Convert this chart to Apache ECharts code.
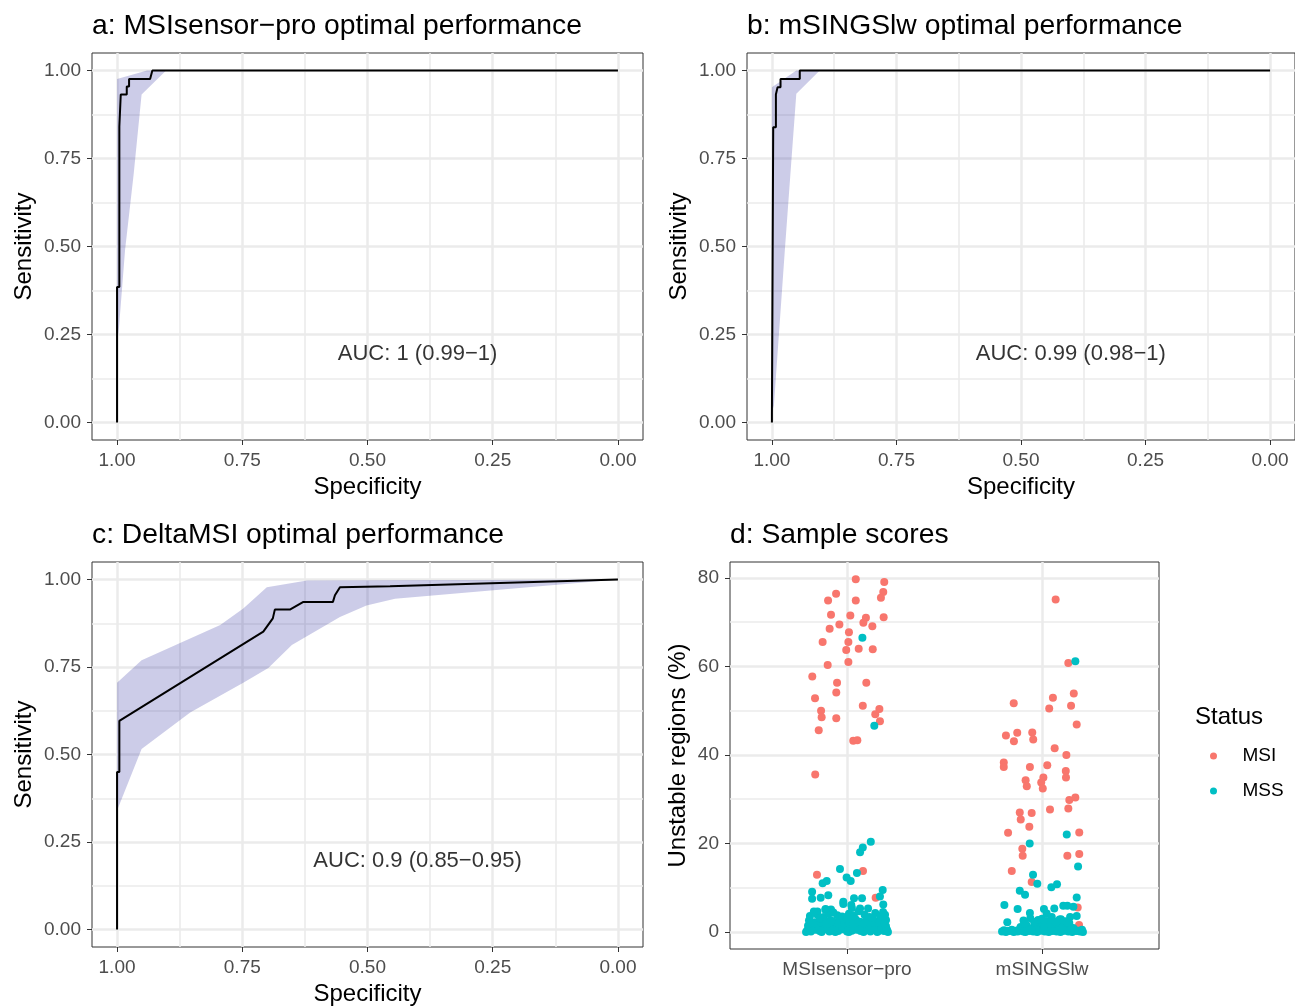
<!DOCTYPE html>
<html>
<head>
<meta charset="utf-8">
<script src="https://cdn.jsdelivr.net/npm/echarts@6.0.0/dist/echarts.min.js"></script>
<style>
html, body { margin: 0; padding: 0; background: #fff; }
#chart { width: 1295px; height: 1007px; }
</style>
</head>
<body>
<div id="chart"></div>
<script>
// panel titles
const panelTitles = [
  'a: MSIsensor\u2212pro optimal performance',
  'b: mSINGSlw optimal performance',
  'c: DeltaMSI optimal performance',
  'd: Sample scores'
];
const aucLabels = ['AUC: 1 (0.99\u22121)', 'AUC: 0.99 (0.98\u22121)', 'AUC: 0.9 (0.85\u22120.95)'];

// ROC tick values
const rocTicks = [0, 0.25, 0.5, 0.75, 1];
const rocMinor = [0.125, 0.375, 0.625, 0.875];

// a: MSIsensor-pro ROC curve
const rocASpec = [1, 1, 0.9954, 0.9954, 0.9926, 0.9926, 0.9806, 0.9806, 0.976, 0.976, 0.934, 0.9295, 0];
const rocASens = [0, 0.385, 0.385, 0.841, 0.841, 0.932, 0.932, 0.955, 0.955, 0.976, 0.976, 1, 1];
const bandAUpper = [[1, 0.976], [0.94, 1], [0, 1]];
const bandALower = [[1, 0.22], [0.996, 0.272], [0.984, 0.49], [0.967, 0.703], [0.951, 0.932], [0.902, 1], [0, 1]];

// b: mSINGSlw ROC curve
const rocBSpec = [1, 1, 0.9974, 0.9974, 0.992, 0.992, 0.9886, 0.9886, 0.9827, 0.9827, 0.9441, 0.9441, 0];
const rocBSens = [0, 0.028, 0.028, 0.839, 0.839, 0.932, 0.932, 0.953, 0.953, 0.976, 0.976, 1, 1];
const bandBUpper = [[1, 0.953], [0.951, 1], [0, 1]];
const bandBLower = [[1, 0.03], [0.996, 0.048], [0.974, 0.49], [0.963, 0.703], [0.951, 0.934], [0.904, 1], [0, 1]];

// c: DeltaMSI ROC curve
const rocCSpec = [1, 1, 0.9954, 0.9954, 0.708, 0.689, 0.685, 0.655, 0.628, 0.569, 0.565, 0.555, 0.455, 0];
const rocCSens = [0, 0.45, 0.45, 0.596, 0.851, 0.889, 0.914, 0.914, 0.936, 0.936, 0.955, 0.978, 0.981, 1];
const bandCUpper = [[1, 0.705], [0.951, 0.769], [0.794, 0.87], [0.748, 0.917], [0.701, 0.978], [0.621, 0.997], [0, 1]];
const bandCLower = [[1, 0.34], [0.951, 0.516], [0.854, 0.62], [0.748, 0.705], [0.698, 0.747], [0.651, 0.813],
  [0.555, 0.893], [0.502, 0.926], [0.445, 0.945], [0, 1]];

// d: sample scores (jitter offset from category, unstable %)
const groups = ['MSIsensor\u2212pro', 'mSINGSlw'];
const scoreTicks = [0, 20, 40, 60, 80];
const scoreMinor = [10, 30, 50, 70];

const proMsiJit = [0.045, 0.191, 0.186, 0.174, -0.056, -0.097, 0.045, -0.082, 0.017, 0.097, 0.084, 0.188, -0.039,
  -0.089, 0.130, 0.010, -0.125, 0.007, -0.004, 0.060, 0.132, -0.099, 0.007, -0.178, -0.051, 0.099, -0.055, -0.164,
  0.081, -0.133, 0.166, 0.145, -0.130, -0.055, 0.169, -0.145, 0.032, 0.053, -0.163, -0.154, 0.082, 0.147];
const proMsiVal = [79.7, 79.1, 76.8, 75.5, 76.4, 74.9, 74.9, 71.7, 71.5, 71.0, 69.9, 71.1, 69.5,
  68.5, 69.1, 67.7, 65.5, 65.5, 63.7, 64.0, 63.9, 60.3, 61.0, 57.7, 56.3, 56.3, 54.1, 52.8,
  51.1, 50.0, 50.4, 49.2, 48.5, 48.3, 47.6, 45.6, 43.2, 43.3, 35.6, 12.9, 13.8, 7.75];

const proMssJit = [0.079, 0.140, 0.122, 0.081, 0.067, -0.036, 0.051, -0.002, 0.019, -0.104, -0.125, -0.179, -0.179,
  -0.135, -0.096, 0.183, 0.169, 0.036, 0.077, -0.082, -0.019, -0.019, 0.022, 0.186, 0.067, 0.108, -0.111, -0.152,
  -0.205, -0.185, -0.16, -0.14, -0.115, -0.09, -0.07, -0.045, -0.02, 0.0, 0.025, 0.05, 0.07, 0.095, 0.12, 0.14, 0.165, 0.19, 0.205,
  -0.2, -0.175, -0.15, -0.125, -0.1, -0.08, -0.055, -0.03, -0.01, 0.015, 0.04, 0.06, 0.085, 0.11, 0.13, 0.155, 0.18, 0.2,
  -0.195, -0.165, -0.135, -0.11, -0.085, -0.06, -0.035, -0.005, 0.02, 0.045, 0.075, 0.1, 0.125, 0.15, 0.175, 0.2,
  -0.19, -0.155, -0.12, -0.095, -0.05, -0.025, 0.01, 0.035, 0.09, 0.115, 0.145, 0.17, 0.195,
  -0.21, -0.13, -0.06, 0.01, 0.085, 0.155, 0.21, -0.175, -0.035, 0.105, 0.18,
  -0.195, -0.17, -0.145, -0.12, -0.095, -0.075, -0.05, -0.025, 0.005, 0.03, 0.055, 0.08, 0.105, 0.125, 0.15, 0.175, 0.2,
  -0.185, -0.16, -0.13, -0.105, -0.075, -0.045, -0.015, 0.01, 0.035, 0.065, 0.09, 0.115, 0.14, 0.165, 0.19,
  -0.17, -0.14, -0.07, 0.0, 0.06, 0.13, 0.185, -0.11, 0.025];
const proMssVal = [66.5, 46.6, 20.4, 19.1, 18.0, 14.2, 13.3, 12.3, 11.5, 11.5, 11.0, 9.1, 7.5,
  7.75, 8.3, 9.5, 8.0, 7.6, 7.6, 5.1, 6.8, 6.3, 6.1, 6.2, 5.3, 5.3, 5.0, 4.6,
  0.3, 0.1, 0.5, 0.2, 0.6, 0.1, 0.4, 0.2, 0.7, 0.1, 0.3, 0.5, 0.2, 0.4, 0.1, 0.6, 0.3, 0.2, 0.5,
  1.4, 1.1, 1.7, 1.3, 1.0, 1.6, 1.2, 1.8, 1.1, 1.5, 1.3, 1.0, 1.7, 1.2, 1.5, 1.1, 1.6, 1.3,
  2.6, 2.2, 2.9, 2.4, 2.7, 2.1, 3.0, 2.5, 2.3, 2.8, 2.2, 2.6, 2.9, 2.4, 2.1, 2.7,
  3.6, 4.0, 3.4, 4.2, 3.8, 3.5, 4.1, 3.7, 3.9, 3.4, 4.3, 3.6, 3.9,
  0.0, 0.0, 0.0, 0.0, 0.0, 0.0, 0.0, 0.9, 0.8, 0.9, 0.9,
  0.8, 0.6, 1.0, 0.7, 0.9, 0.5, 1.0, 0.6, 0.9, 0.7, 1.0, 0.6, 0.8, 0.9, 0.7, 1.0, 0.8,
  2.0, 1.9, 2.2, 1.8, 2.4, 1.9, 2.1, 2.0, 1.8, 2.3, 1.9, 2.1, 2.0, 2.2, 1.9,
  4.6, 3.1, 4.4, 3.3, 4.7, 3.2, 4.5, 5.2, 5.4];

const singsMsiJit = [0.070, 0.135, -0.145, 0.056, 0.163, 0.037, 0.149, 0.178, -0.185, -0.127, -0.144, -0.050, -0.045,
  0.065, 0.125, -0.196, -0.196, -0.062, 0.027, 0.122, 0.123, -0.084, -0.078, 0.007, -0.004, 0.004, 0.140, 0.171,
  0.135, 0.041, -0.114, -0.053, -0.109, -0.065, -0.174, 0.191, -0.101, -0.099, 0.130, 0.191, -0.155, -0.053, 0.183, 0.190];
const singsMsiVal = [75.1, 60.8, 51.7, 52.9, 53.9, 50.5, 51.1, 46.9, 44.4, 45.0, 43.1, 45.1, 43.5,
  41.5, 40.0, 38.3, 37.3, 37.3, 37.7, 36.4, 34.9, 34.3, 32.9, 34.9, 33.8, 32.4, 29.8, 30.4,
  27.9, 27.7, 27.0, 26.9, 25.4, 23.8, 22.4, 22.5, 18.8, 17.2, 17.2, 17.6, 13.8, 11.3, 5.5, 1.6];

const singsMssJit = [0.171, 0.127, -0.063, 0.185, -0.046, -0.024, 0.048, 0.077, -0.114, -0.087, 0.178, -0.193,
  0.109, 0.130, 0.161, -0.125, 0.063, 0.010, -0.178, 0.144, 0.178, 0.097, -0.062, 0.024, -0.02,
  -0.205, -0.185, -0.165, -0.145, -0.125, -0.105, -0.085, -0.065, -0.045, -0.025, -0.005, 0.015, 0.035, 0.055,
  0.075, 0.095, 0.115, 0.135, 0.155, 0.175, 0.195, 0.21,
  -0.11, -0.08, -0.05, -0.02, 0.005, 0.03, 0.055, 0.08, 0.105, 0.13, 0.16,
  -0.095, -0.06, -0.03, 0.0, 0.025, 0.05, 0.09, 0.12,
  -0.195, -0.175, -0.155, -0.135, -0.115, -0.095, -0.075, -0.055, -0.035, -0.015, 0.005, 0.025, 0.045, 0.065,
  0.085, 0.105, 0.125, 0.145, 0.165, 0.185, 0.205,
  -0.09, -0.04, 0.01, 0.045, 0.07, 0.1, 0.14];
const singsMssVal = [61.2, 22.0, 20.0, 14.8, 12.9, 10.9, 10.1, 10.8, 9.3, 8.4, 7.8, 6.1,
  5.9, 5.9, 5.7, 5.2, 5.3, 5.2, 2.2, 3.4, 3.6, 2.9, 4.3, 4.2, 2.7,
  0.1, 0.0, 0.2, 0.0, 0.1, 0.3, 0.0, 0.2, 0.1, 0.0, 0.3, 0.1, 0.0, 0.2,
  0.1, 0.0, 0.3, 0.1, 0.0, 0.2, 0.1, 0.0,
  1.1, 1.6, 0.9, 1.4, 2.0, 1.2, 1.7, 1.0, 1.5, 1.3, 0.9,
  2.6, 3.1, 2.3, 3.0, 2.5, 3.4, 2.8, 2.4,
  0.4, 0.2, 0.5, 0.3, 0.6, 0.1, 0.4, 0.7, 0.3, 0.5, 0.6, 0.2, 0.4, 0.6,
  0.5, 0.3, 0.7, 0.4, 0.6, 0.3, 0.5,
  1.9, 2.2, 1.1, 1.8, 2.3, 0.8, 2.0];

const FONT = '"Liberation Sans", Arial, Helvetica, sans-serif';
const GRID_COLOR = '#EBEBEB';
const TICK_COLOR = '#333333';
const LABEL_COLOR = '#4D4D4D';

const chart = echarts.init(document.getElementById('chart'));

const gridPos = [
  { left: 92, top: 53, width: 551, height: 387 },
  { left: 747, top: 53, width: 551, height: 387 },
  { left: 92, top: 562, width: 551, height: 387 },
  { left: 730, top: 562, width: 429, height: 387 }
];

function pairs(xs, ys) { return xs.map((x, i) => [x, ys[i]]); }
function jitter(cat, jit, vals) { return vals.map((v, i) => [cat + 1 + jit[i], v]); }

function labelStyle(isX, ticks, fmt) {
  return { customValues: ticks, color: LABEL_COLOR, fontSize: 19, fontFamily: FONT, margin: isX ? 11 : 11, formatter: fmt };
}
function mainAxis(gi, isX, ticks, extra) {
  return Object.assign({
    gridIndex: gi,
    type: 'value',
    position: isX ? 'bottom' : 'left',
    axisLine: { show: false, onZero: false },
    axisTick: { show: true, length: 5, lineStyle: { color: TICK_COLOR, width: 1 }, customValues: ticks },
    axisLabel: labelStyle(isX, ticks),
    splitLine: { show: true, lineStyle: { color: GRID_COLOR, width: 2.5 } },
    nameLocation: 'middle',
    nameTextStyle: { fontSize: 24, color: '#000', fontFamily: FONT }
  }, extra);
}
function minorAxis(gi, isX, ticks, extra) {
  return Object.assign({
    gridIndex: gi,
    type: 'value',
    position: isX ? 'bottom' : 'left',
    axisLine: { show: false, onZero: false },
    axisTick: { show: false, customValues: ticks },
    axisLabel: { show: false },
    splitLine: { show: true, lineStyle: { color: GRID_COLOR, width: 1.6 } }
  }, extra);
}

const fmt2 = v => v.toFixed(2);
const xAxes = [], yAxes = [];
for (let g = 0; g < 3; g++) {
  const rng = { min: -0.05, max: 1.05 };
  xAxes.push(mainAxis(g, true, rocTicks, Object.assign({ inverse: true, name: 'Specificity', nameGap: 35,
    axisLabel: labelStyle(true, rocTicks, fmt2) }, rng)));
  xAxes.push(minorAxis(g, true, rocMinor, Object.assign({ inverse: true }, rng)));
  yAxes.push(mainAxis(g, false, rocTicks, Object.assign({ name: 'Sensitivity', nameGap: 56,
    axisLabel: labelStyle(false, rocTicks, fmt2) }, rng)));
  yAxes.push(minorAxis(g, false, rocMinor, rng));
}
// panel d
xAxes.push(mainAxis(3, true, [1, 2], { min: 0.4, max: 2.6,
  axisLabel: labelStyle(true, [1, 2], v => groups[Math.round(v) - 1]) }));
yAxes.push(mainAxis(3, false, scoreTicks, { min: -3.85, max: 83.6, name: 'Unstable regions (%)', nameGap: 40 }));
yAxes.push(minorAxis(3, false, scoreMinor, { min: -3.85, max: 83.6 }));

function bandSeries(g, upper, lower) {
  const pts = upper.concat(lower.slice().reverse());
  return {
    type: 'custom', xAxisIndex: g * 2, yAxisIndex: g * 2, data: [0], silent: true, z: 2,
    renderItem: function (params, api) {
      return {
        type: 'polygon',
        shape: { points: pts.map(p => api.coord(p)) },
        style: { fill: 'rgba(0,0,139,0.2)' }
      };
    }
  };
}
function rocSeries(g, spec, sens) {
  return {
    type: 'line', xAxisIndex: g * 2, yAxisIndex: g * 2, data: pairs(spec, sens),
    showSymbol: false, symbol: 'none', silent: true, z: 3,
    lineStyle: { color: '#000000', width: 2 }
  };
}
function aucSeries(g, text) {
  return {
    type: 'scatter', xAxisIndex: g * 2, yAxisIndex: g * 2, data: [[0.4, 0.195]], symbolSize: 0, silent: true, z: 4,
    label: { show: true, position: 'inside', formatter: text, color: '#000', fontSize: 22, fontFamily: FONT }
  };
}

const series = [
  bandSeries(0, bandAUpper, bandALower), rocSeries(0, rocASpec, rocASens), aucSeries(0, aucLabels[0]),
  bandSeries(1, bandBUpper, bandBLower), rocSeries(1, rocBSpec, rocBSens), aucSeries(1, aucLabels[1]),
  bandSeries(2, bandCUpper, bandCLower), rocSeries(2, rocCSpec, rocCSens), aucSeries(2, aucLabels[2]),
  {
    name: 'MSI', type: 'scatter', xAxisIndex: 6, yAxisIndex: 6, symbolSize: 8, silent: true,
    itemStyle: { color: '#F8766D', opacity: 1 },
    data: jitter(0, proMsiJit, proMsiVal).concat(jitter(1, singsMsiJit, singsMsiVal))
  },
  {
    name: 'MSS', type: 'scatter', xAxisIndex: 6, yAxisIndex: 6, symbolSize: 8, silent: true,
    itemStyle: { color: '#00BFC4', opacity: 1 },
    data: jitter(0, proMssJit, proMssVal).concat(jitter(1, singsMssJit, singsMssVal))
  }
];

const titlePos = [[92, 12], [747, 12], [92, 521], [730, 521]];
const titles = panelTitles.map((t, i) => ({
  text: t, left: titlePos[i][0], top: titlePos[i][1], padding: 0,
  textStyle: { fontSize: 28.3, fontWeight: 'normal', color: '#000', fontFamily: FONT }
}));
titles.push({ text: 'Status', left: 1195, top: 705, padding: 0,
  textStyle: { fontSize: 24, fontWeight: 'normal', color: '#000', fontFamily: FONT } });

chart.setOption({
  animation: false,
  backgroundColor: '#ffffff',
  title: titles,
  grid: gridPos.map(p => Object.assign({ show: true, borderColor: '#333333', borderWidth: 1, backgroundColor: 'transparent', containLabel: false }, p)),
  xAxis: xAxes,
  yAxis: yAxes,
  legend: {
    data: ['MSI', 'MSS'], orient: 'vertical', left: 1210, top: 745, padding: 0,
    icon: 'circle', itemWidth: 48, itemHeight: 7, itemGap: 13,
    textStyle: { fontSize: 19, color: '#000', fontFamily: FONT, lineHeight: 22 },
    selectedMode: false
  },
  series: series
});
</script>
</body>
</html>
